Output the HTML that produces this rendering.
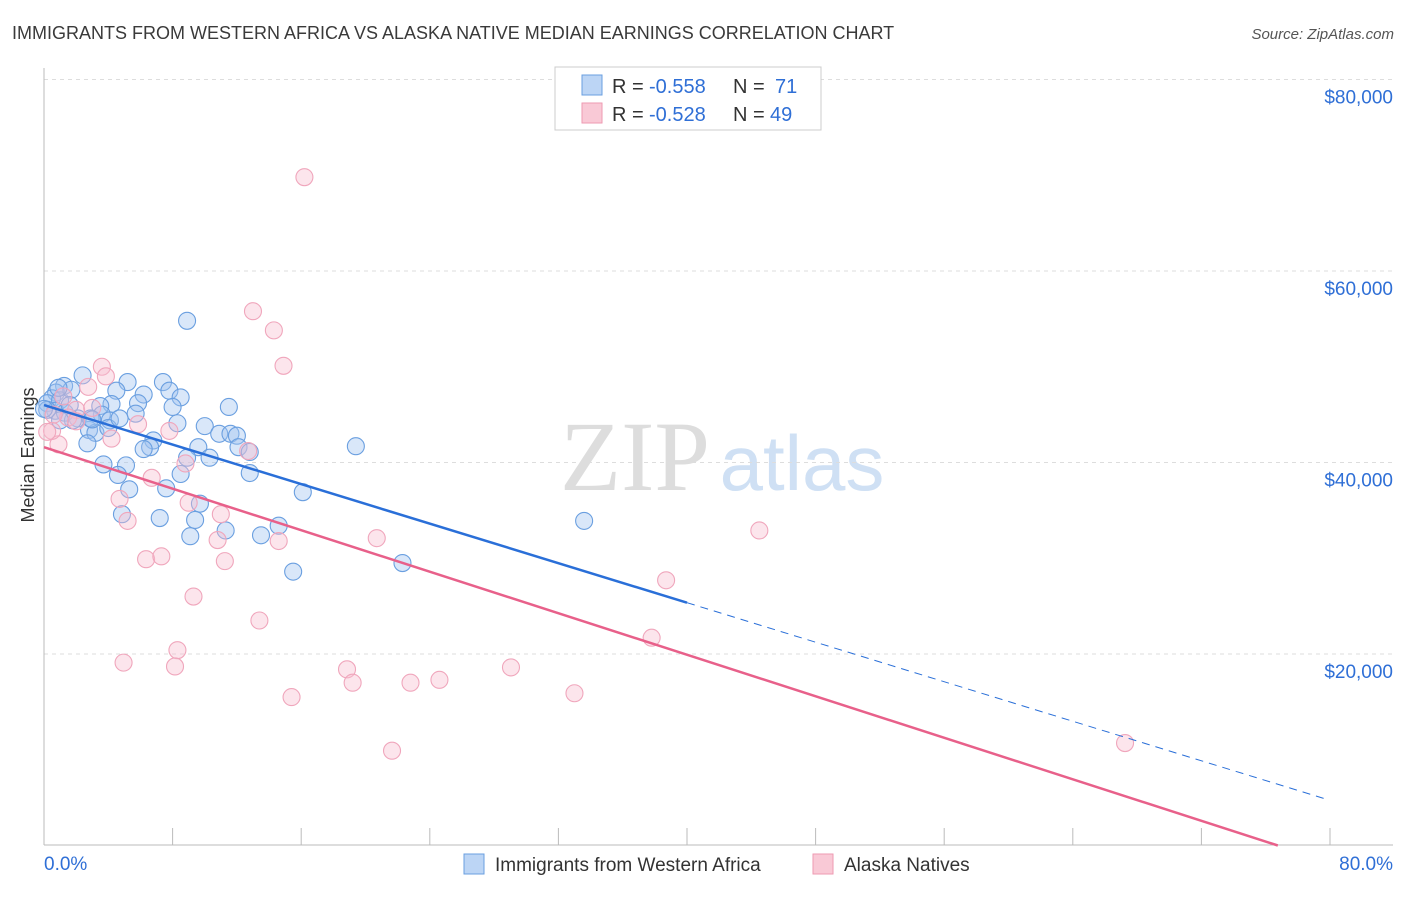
<!DOCTYPE html>
<html><head><meta charset="utf-8"><style>
body{margin:0;background:#fff;font-family:"Liberation Sans",sans-serif;}
</style></head><body>
<svg id="chart" width="1406" height="892" xmlns="http://www.w3.org/2000/svg">
<text x="12" y="39" font-size="18" fill="#3a3a3a">IMMIGRANTS FROM WESTERN AFRICA VS ALASKA NATIVE MEDIAN EARNINGS CORRELATION CHART</text>
<text x="1394" y="39" font-size="15" fill="#555" font-style="italic" text-anchor="end">Source: ZipAtlas.com</text>
<text x="34" y="455" font-size="18" fill="#333" text-anchor="middle" transform="rotate(-90 34 455)">Median Earnings</text>
<g><text x="635" y="490" font-size="100" fill="#ddd" text-anchor="middle" font-family="Liberation Serif,serif">ZIP</text><text x="802" y="490" font-size="78" fill="#cfe0f4" text-anchor="middle">atlas</text></g>
<g id="grid"></g><g id="axes"></g><g id="pts"></g><g id="trend"></g>
<g>
<rect x="555" y="67" width="266" height="63" fill="#fff" stroke="#ccc"/>
<rect x="582" y="75" width="20" height="20" fill="#bcd5f5" stroke="#6a9fe0"/>
<rect x="582" y="103" width="20" height="20" fill="#f9c9d6" stroke="#ee9ab2"/>
<text x="612" y="93" font-size="20" fill="#333">R =</text><text x="649" y="93" font-size="20" fill="#2f6fd6">-0.558</text><text x="733" y="93" font-size="20" fill="#333">N =</text><text x="775" y="93" font-size="20" fill="#2f6fd6">71</text>
<text x="612" y="121" font-size="20" fill="#333">R =</text><text x="649" y="121" font-size="20" fill="#2f6fd6">-0.528</text><text x="733" y="121" font-size="20" fill="#333">N =</text><text x="770" y="121" font-size="20" fill="#2f6fd6">49</text>
</g>
<g>
<rect x="464" y="854" width="20" height="20" fill="#bcd5f5" stroke="#6a9fe0"/>
<text x="495" y="871" font-size="19" fill="#333">Immigrants from Western Africa</text>
<rect x="813" y="854" width="20" height="20" fill="#f9c9d6" stroke="#ee9ab2"/>
<text x="844" y="871" font-size="19" fill="#333">Alaska Natives</text>
</g>
</svg>
<script>
const yTicks=[20000,40000,60000,80000];
const yTickLabels=["$20,000","$40,000","$60,000","$80,000"];
const xEndLabels=["0.0%","80.0%"];
const blueX=[8.9,2.4,1.25,5.2,7.4,4.5,6.2,7.8,8.5,0.75,0.5,0.2,1.0,1.7,5.85,4.2,3.5,8.0,11.5,0.7,1.3,2.1,1.8,3.6,4.1,5.7,8.3,2.8,3.2,10.0,10.9,11.6,12.0,4.0,6.8,6.6,2.7,6.2,9.6,12.1,12.8,19.4,10.3,8.9,3.7,5.1,12.8,8.5,4.6,7.6,5.3,16.1,9.7,4.85,7.2,9.4,14.6,33.6,11.3,9.1,13.5,22.3,15.5,0.2,1.0,0,2.9,1.6,4.7,0.9,3.0];
const blueY=[54800,49100,48000,48400,48400,47500,47100,47500,46800,47300,46700,46200,46500,47600,46200,46100,45900,45800,45800,45400,45200,44600,44400,45000,44400,45100,44100,43400,43100,43800,43000,43000,42800,43600,42300,41600,42000,41400,41600,41600,41100,41700,40500,40500,39800,39700,38900,38800,38700,37300,37200,36900,35700,34600,34200,34000,33400,33900,32900,32300,32400,29500,28600,45500,44400,45600,44600,46000,44600,47800,44500];
const pinkX=[16.2,13.0,14.3,14.9,3.6,3.85,2.75,2.0,5.85,7.8,4.2,0.9,0.5,12.7,8.8,6.7,4.7,9.0,11.0,5.2,10.8,14.6,6.35,7.3,11.25,20.7,9.3,13.4,4.95,8.3,8.15,15.4,18.85,19.2,22.8,24.6,29.05,33.0,21.65,37.8,38.7,44.5,67.25,0.2,1.5,3.0,0.6,2.0,1.2];
const pinkY=[69800,55800,53800,50100,50000,49000,47900,45500,44000,43300,42500,41900,43300,41200,39900,38400,36200,35800,34600,33900,31900,31800,29900,30200,29700,32100,26000,23500,19100,20400,18700,15500,18400,17000,17000,17300,18600,15900,9900,21700,27700,32900,10700,43200,44700,45700,45000,44300,46900];
const blueTrend=[46000,-516];
const pinkTrend=[41600,-542];
const NS="http://www.w3.org/2000/svg";
const X=p=>44+p*16.075, Y=v=>845.5-v/104.44;
function mk(t,a,parent){const e=document.createElementNS(NS,t);for(const k in a)e.setAttribute(k,a[k]);document.getElementById(parent).appendChild(e);return e;}
yTicks.forEach((v,i)=>{
 const g=mk('line',{x1:44,x2:1393,y1:Y(v),y2:Y(v),stroke:'#ddd','stroke-dasharray':'4,4'},'grid');
 
 
 const t=mk('text',{x:1393,y:Y(v)+24,'font-size':19,fill:'#2f6fd6','text-anchor':'end'},'axes');t.textContent=yTickLabels[i];
 
 
});
mk('line',{x1:44,x2:44,y1:68,y2:845,stroke:'#bbb'},'axes');
mk('line',{x1:44,x2:1393,y1:845,y2:845,stroke:'#bbb'},'axes');
for(let i=1;i<=10;i++){const tk=mk('line',{x1:X(i*8),x2:X(i*8),y1:828,y2:845,stroke:'#bbb'},'axes');
 
 }
let t0=mk('text',{x:44,y:870,'font-size':19,fill:'#2f6fd6'},'axes');t0.textContent=xEndLabels[0];


let t1=mk('text',{x:1393,y:870,'font-size':19,fill:'#2f6fd6','text-anchor':'end'},'axes');t1.textContent=xEndLabels[1];


blueX.forEach((x,i)=>{const c=mk('circle',{cx:X(x),cy:Y(blueY[i]),r:8.5,fill:'rgba(160,196,240,0.4)',stroke:'#6a9fe0','stroke-width':1.1},'pts');
 
 });
pinkX.forEach((x,i)=>{const c=mk('circle',{cx:X(x),cy:Y(pinkY[i]),r:8.5,fill:'rgba(248,190,208,0.4)',stroke:'#f0a6bc','stroke-width':1.1},'pts');
 
 });
const bv=p=>blueTrend[0]+blueTrend[1]*p, pv=p=>pinkTrend[0]+pinkTrend[1]*p;
let l1=mk('line',{x1:X(0),y1:Y(bv(0)),x2:X(40),y2:Y(bv(40)),stroke:'#2a6fd8','stroke-width':2.5},'trend');


let l2=mk('line',{x1:X(40),y1:Y(bv(40)),x2:X(79.75),y2:Y(bv(79.75)),stroke:'#2a6fd8','stroke-width':1,'stroke-dasharray':'8,6'},'trend');


const pz=-pinkTrend[0]/pinkTrend[1];
let l3=mk('line',{x1:X(0),y1:Y(pv(0)),x2:X(pz),y2:Y(0),stroke:'#e8608a','stroke-width':2.5},'trend');


</script>
</body></html>
